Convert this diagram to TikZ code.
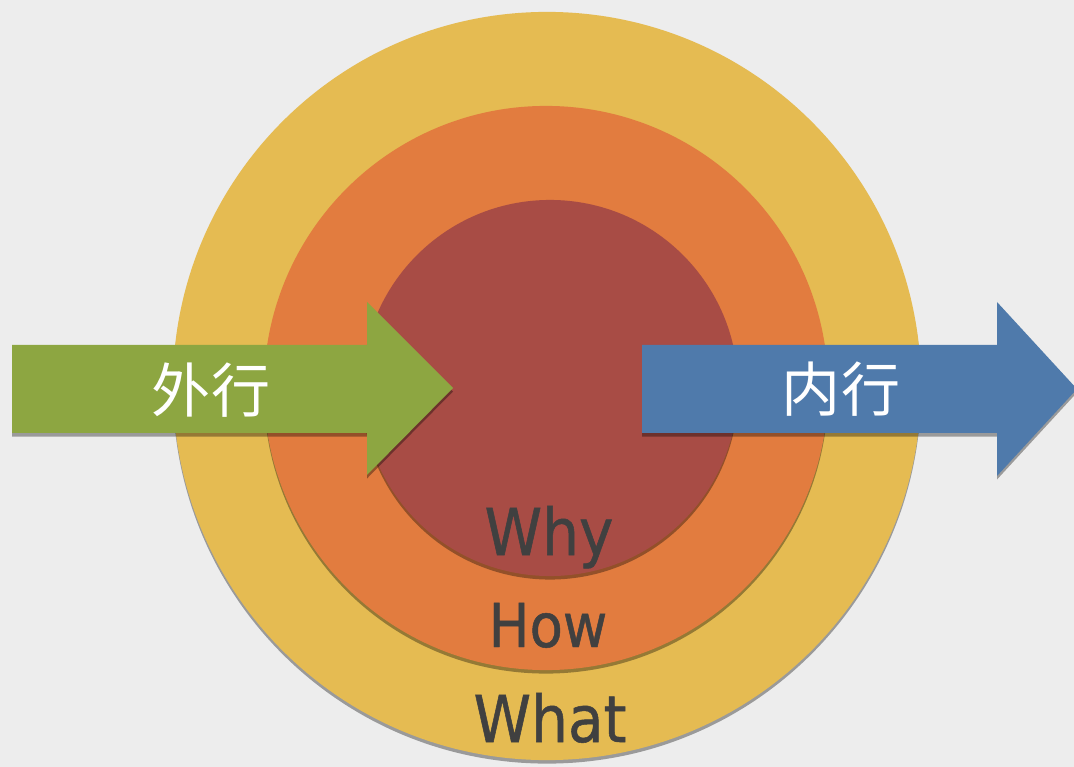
\documentclass[tikz,border=0pt]{standalone}
\usepackage{fontspec}
\usepackage{xcolor}
\usepackage{tikz}
\usetikzlibrary{shadows}
\newfontfamily\wordfont[FakeBold=0.8]{DejaVu Sans Condensed}
\newfontfamily\cjk{Noto Sans CJK SC}
\definecolor{paper}{RGB}{237,237,237}
\definecolor{whatring}{RGB}{229,187,82}
\definecolor{howring}{RGB}{226,124,63}
\definecolor{whyring}{RGB}{168,76,69}
\definecolor{outsider}{RGB}{141,166,65}
\definecolor{insider}{RGB}{79,122,171}
\definecolor{ink}{RGB}{64,64,64}

\begin{document}
\begin{tikzpicture}[x=0.025cm, y=-0.025cm,
    softshadow/.style={drop shadow={shadow xshift=0pt, shadow yshift=-2.5pt, opacity=0.35, fill=black}},
    ringword/.style={font=\wordfont\fontsize{46}{46}\selectfont, text=ink, anchor=base, inner sep=0pt},
    arrowword/.style={font=\cjk\fontsize{42}{42}\selectfont, text=white, inner sep=0pt}]
        \useasboundingbox (0,0) rectangle (1074,767);
        \fill[paper] (0,0) rectangle (1074,767);

        % Rings
        \fill[whatring, softshadow] (547,386) circle (9.35cm);
        \fill[howring, softshadow] (546,388) circle (7.05cm);
        \fill[whyring, softshadow] (550,388) circle (4.7cm);

        % Arrows
        \fill[outsider, softshadow] (12,345) -- (367,345) -- (367,302) -- (453,388)
            -- (367,475) -- (367,433) -- (12,433) -- cycle;
        \fill[insider, softshadow] (642,345) -- (997,345) -- (997,302) -- (1077,389)
            -- (997,476) -- (997,433) -- (642,433) -- cycle;

        % Labels
        \node[arrowword] (outer) at (211,390) {外行};
        \node[arrowword] (inner) at (841,389) {内行};
        \node[ringword] (why) at (549,555) {Why};
        \node[ringword, font=\wordfont\fontsize{43}{43}\selectfont] (how) at (548,647) {How};
        \node[ringword] (what) at (550,742) {What};
    \end{tikzpicture}
\end{document}
